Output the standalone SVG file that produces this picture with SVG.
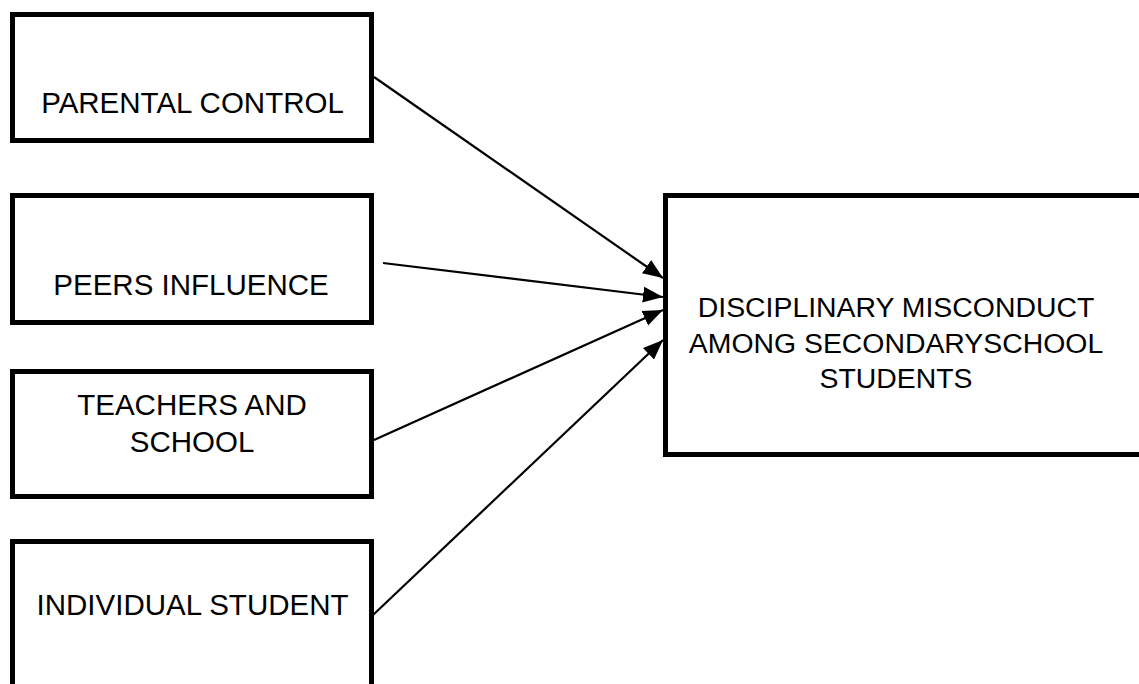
<svg xmlns="http://www.w3.org/2000/svg" width="1139" height="684" viewBox="0 0 1139 684">
<style>
.box{fill:#fff;stroke:#000;stroke-width:5}
.lbl{font-family:"Liberation Sans",Arial,sans-serif;font-size:29.5px;fill:#000;text-anchor:middle}
.big{font-size:28.4px}
.conn{stroke:#000;stroke-width:2.2;fill:none}
</style>
<defs>
<marker id="ah" markerUnits="userSpaceOnUse" markerWidth="22" markerHeight="18" refX="20" refY="9" orient="auto">
<path d="M0,1 L20,9 L0,17 Z" fill="#000"/>
</marker>
</defs>
<rect width="1139" height="684" fill="#fff"/>
<g id="parental">
<rect class="box" x="12.5" y="14.5" width="359" height="126"/>
<text class="lbl" x="192.5" y="113">PARENTAL CONTROL</text>
</g>
<g id="peers">
<rect class="box" x="12.5" y="195.5" width="359" height="127"/>
<text class="lbl" x="191" y="295">PEERS INFLUENCE</text>
</g>
<g id="teachers">
<rect class="box" x="12.5" y="371.5" width="359" height="125"/>
<text class="lbl" x="192" y="415">TEACHERS AND</text>
<text class="lbl" x="192" y="452">SCHOOL</text>
</g>
<g id="individual">
<rect class="box" x="12.5" y="541.5" width="359" height="200"/>
<text class="lbl" x="192.5" y="615">INDIVIDUAL STUDENT</text>
</g>
<g id="misconduct">
<rect class="box" x="665.5" y="195.5" width="500" height="259"/>
<text class="lbl big" x="896" y="317">DISCIPLINARY MISCONDUCT</text>
<text class="lbl big" x="896" y="353">AMONG SECONDARYSCHOOL</text>
<text class="lbl big" x="896" y="388">STUDENTS</text>
</g>
<g id="connectors">
<line class="conn" x1="374" y1="77" x2="663" y2="278" marker-end="url(#ah)"/>
<line class="conn" x1="383" y1="263" x2="663" y2="297" marker-end="url(#ah)"/>
<line class="conn" x1="374" y1="440" x2="663" y2="310" marker-end="url(#ah)"/>
<line class="conn" x1="373" y1="615" x2="663" y2="340" marker-end="url(#ah)"/>
</g>
</svg>
